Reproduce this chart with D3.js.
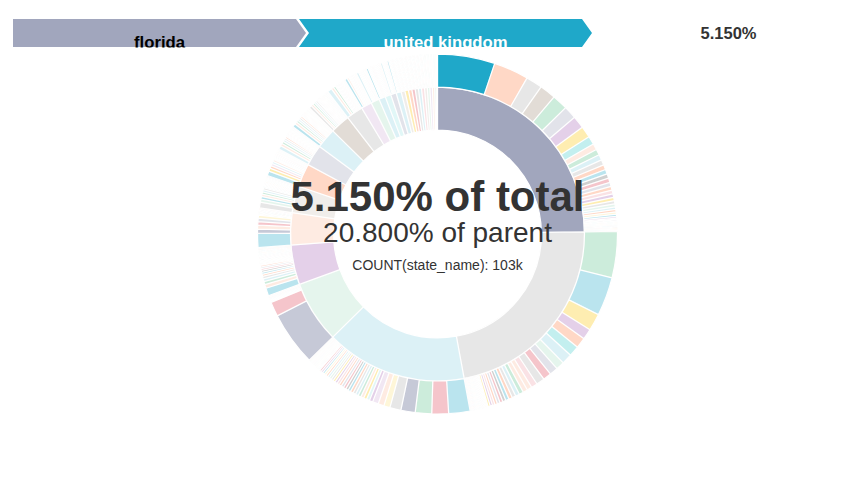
<!DOCTYPE html>
<html><head><meta charset="utf-8">
<script src="https://cdn.jsdelivr.net/npm/d3@7"></script>
<style>
html,body{margin:0;padding:0;background:#fff;}
svg{display:block;font-family:"Liberation Sans",Arial,Helvetica,sans-serif;}
</style></head><body>
<svg id="chart" width="862" height="488"></svg>
<script>
// ---------------- DATA (counts in thousands) ----------------
const metricLabel = "COUNT(state_name)";
const hoverPath = ["florida", "united kingdom"];

const states = ["florida","california","texas","new york","illinois","ohio","pennsylvania","georgia","michigan",
  "north carolina","new jersey","virginia","washington","arizona","tennessee","massachusetts","indiana","missouri",
  "maryland","wisconsin","colorado","minnesota","south carolina","alabama","louisiana","kentucky","oregon","oklahoma",
  "connecticut","utah","iowa"];

const otherCountries = ["portugal","poland","greece","finland","new zealand","south africa","argentina","chile","colombia","peru",
  "israel","turkey","russia","south korea","singapore","thailand","vietnam","philippines","indonesia","malaysia",
  "egypt","nigeria","kenya","morocco","czech republic","hungary","romania","ukraine","croatia","serbia",
  "bulgaria","slovakia","slovenia","lithuania","latvia","estonia","iceland","luxembourg","malta","cyprus",
  "venezuela","ecuador","uruguay","paraguay","bolivia","costa rica","panama","cuba","jamaica","dominican republic",
  "puerto rico","guatemala","honduras","el salvador","nicaragua","pakistan","bangladesh","sri lanka","nepal","qatar",
  "united arab emirates","saudi arabia","kuwait","jordan","lebanon","iran","iraq","ghana","ethiopia","tanzania"];

const floridaTop = ["united kingdom","france","switzerland","mexico","canada","china","australia","japan","brazil"];
const floridaCounts = [103,62.8,29.4,29.2,27.8,23.3,22.2,20.6,15.0,
  11.1,10.6,10.0,9.4,8.9,8.3,8.1,7.8,7.2,6.9,6.7,6.4,6.1,5.6,5.3,4.6,4.5,4.0,3.8,3.5,
  1.5,1.4,1.2,1.0,1.0,1.0,0.9,0.9,0.9,0.8,0.8,0.8,0.8,0.7,0.7,0.7,0.7,0.6,0.6,0.6,0.6,0.5,0.5,0.5,0.5,0.4,0.4,0.4,0.3,0.3,0.3,0.2,0.2,0.2,0.1,0.1];

const californiaTop = ["canada","united kingdom","japan","australia","france","brazil","india","netherlands","china","spain","switzerland","ireland","sweden"];
const californiaCounts = [83.3,69.4,30.6,19.0,18.9,18.8,18.7,15.0,15.0,14.9,14.8,
  11.1,8.9,8.3,7.8,7.2,6.7,6.4,6.1,5.6,5.3,5.0,4.7,4.4,4.2,3.9,2.1,
  1.5,1.4,1.3,1.2,1.2,1.1,1.1,1.1,1.0,1.0,0.9,0.9,0.9,0.9,0.9,0.8,0.8,0.8,0.8,0.8,0.7,0.7,0.7,0.7,0.7,
  0.6,0.6,0.6,0.6,0.5,0.5,0.5,0.5,0.4,0.4,0.4,0.3,0.3,0.2,0.2,0.1];

const texasTop = ["united kingdom","spain","canada","germany","switzerland","norway","sweden","denmark","australia","belgium","japan"];
const texasCounts = [38.3,30.0,29.4,25.6,20.0,11.1,10.6,10.5,6.1,5.6,5.5,
  5.4,5.3,5.2,5.1,5.0,4.9,4.8,4.7,4.6,4.5,4.4,4.3,4.2,4.1,4.0,3.9,3.8,3.7,3.6,3.5,3.4,
  1.6,1.5,1.4,1.3,1.2,1.0,1.0,1.0,0.9,0.9,0.9,0.8,0.8,0.8,0.8,0.7,0.7,0.7,0.7,0.6,0.6,0.6,0.6,0.6,0.5,0.5,0.5,0.4,0.4,0.4,0.3,0.3,0.2,0.2,0.1];

const newYorkTop = ["germany","spain"];
const newYorkCounts = [97.2,26.1,2.2,1.2,1.1,1.0,1.0,0.9,0.9,0.8,0.8,0.7,0.7,0.6,0.5,0.4];

const illinoisTop = ["united kingdom"];
const illinoisCounts = [13.9,6.7,5.6,5.0,4.4,3.9,3.6,3.4,3.2,3.0,2.9,2.0,1.0,
  1.6,1.5,1.4,1.3,1.3,1.2,1.2,1.1,1.1,1.0,1.0,1.0,0.9,0.9,0.9,0.8,0.8,0.8,0.8,0.7,0.7,0.7,0.6,0.6,0.6,0.5,0.5,0.5,0.5,0.4,0.4,0.4,0.3,0.3,0.2,0.1];

const ohioTop = ["united kingdom","germany","sweden","spain","china","norway"];
const ohioCounts = [25.6,7.3,7.2,6.1,6.0,5.5,1.4,1.3,1.3,1.2,1.1,1.1,1.0,1.0,0.9,0.8,0.7,0.7,0.5];

const pennsylvaniaTop = ["switzerland","netherlands","united kingdom"];
const pennsylvaniaCounts = [10.0,5.6,4.8,4.4,4.0,3.8,3.6,
  1.6,1.5,1.5,1.4,1.4,1.3,1.3,1.2,1.2,1.1,1.1,1.0,1.0,0.9,0.9,0.8,0.8,0.7,0.6,0.5,0.5,0.4];

const georgiaTop = ["united kingdom","japan","france","denmark","india"];
const georgiaCounts = [8.3,5.6,4.6,4.4,4.0,3.6,
  1.6,1.5,1.5,1.4,1.4,1.3,1.3,1.2,1.2,1.1,1.1,1.0,1.0,0.9,0.8,0.7,0.6,0.5,0.3,0.2];

const michiganTop = ["india"];
const michiganCounts = [6.7,4.6,4.2,3.8,3.4,3.1,
  1.6,1.5,1.5,1.4,1.4,1.3,1.3,1.2,1.2,1.1,1.1,1.0,1.0,1.0,0.9,0.8,0.7,0.6,0.3];

const northCarolinaTop = ["united kingdom"];
const northCarolinaCounts = [6.1,4.4,3.8,3.5,3.5,3.2,
  1.6,1.5,1.5,1.4,1.4,1.3,1.3,1.2,1.2,1.1,1.1,1.0,1.0,1.0,0.9,0.8,0.6];

const newJerseyTop = ["switzerland"];
const newJerseyCounts = [5.0,3.9,3.5,3.3,3.1,
  1.6,1.6,1.5,1.5,1.4,1.4,1.3,1.3,1.2,1.2,1.1,1.1,1.0,1.0,1.0,0.9,0.9,0.8,0.8,0.7,0.6,0.3,0.3];

const virginiaTop = ["india"];
const virginiaCounts = [8.3,4.4,3.9,1.6,1.5,1.5,1.4,1.4,1.3,1.3,1.2,1.2,1.1,1.1,1.0,1.0,0.9,0.8,0.8,0.6,0.4];
const washingtonTop = ["united kingdom"];
const washingtonCounts = [5.0,3.4,1.5,1.4,1.4,1.3,1.3,1.2,1.2,1.1,1.0,1.0,0.9,0.8,0.5,0.3];
const arizonaTop = ["india"];
const arizonaCounts = [4.4,1.5,1.4,1.4,1.3,1.3,1.2,1.2,1.1,1.0,1.0,0.9,0.7,0.5];
const tennesseeTop = ["united kingdom"];
const tennesseeCounts = [3.9,1.5,1.4,1.3,1.2,1.1,1.0,0.9,0.8,0.7,0.4,0.2];
const massachusettsCounts = [1.6,1.5,1.4,1.3,1.2,1.1,1.0,0.9,0.8,0.7,0.6,0.4,0.3];
const indianaTop = ["india"];
const indianaCounts = [3.6,1.4,1.3,1.2,1.1,1.0,0.9,0.7,0.5,0.3,0.2];
const missouriTop = ["united kingdom"];
const missouriCounts = [3.3,1.4,1.3,1.2,1.0,0.9,0.8,0.6,0.4,0.2];
const marylandCounts = [1.6,1.4,1.2,1.1,1.0,0.8,0.7,0.5];
const wisconsinCounts = [1.5,1.3,1.2,1.0,0.9,0.8,0.6,0.5];
const coloradoCounts = [1.5,1.3,1.1,1.0,0.9,0.8,0.6,0.5];
const minnesotaCounts = [1.5,1.3,1.1,1.0,0.9,0.7,0.5,0.2];
const southCarolinaCounts = [1.4,1.3,1.1,1.0,0.9,0.7,0.5,0.2];
const alabamaCounts = [1.4,1.2,1.1,0.9,0.8,0.7,0.4,0.2];
const louisianaCounts = [1.4,1.2,1.0,0.9,0.8,0.7,0.4,0.2];
const kentuckyCounts = [1.3,1.2,1.0,0.9,0.7,0.6,0.4];
const oregonCounts = [1.3,1.1,1.0,0.8,0.7,0.5,0.2];
const oklahomaCounts = [1.2,1.1,1.0,0.8,0.7,0.5,0.2];
const connecticutCounts = [1.2,1.0,0.9,0.8,0.6,0.5];
const utahCounts = [1.0,0.9,0.8,0.6];
const iowaCounts = [1.0,0.8,0.6,0.4];

const stateTopNames = [floridaTop,californiaTop,texasTop,newYorkTop,illinoisTop,ohioTop,pennsylvaniaTop,georgiaTop,michiganTop,
  northCarolinaTop,newJerseyTop,virginiaTop,washingtonTop,arizonaTop,tennesseeTop,[],indianaTop,missouriTop,
  [],[],[],[],[],[],[],[],[],[],[],[],[]];
const stateCounts = [floridaCounts,californiaCounts,texasCounts,newYorkCounts,illinoisCounts,ohioCounts,pennsylvaniaCounts,georgiaCounts,michiganCounts,
  northCarolinaCounts,newJerseyCounts,virginiaCounts,washingtonCounts,arizonaCounts,tennesseeCounts,massachusettsCounts,indianaCounts,missouriCounts,
  marylandCounts,wisconsinCounts,coloradoCounts,minnesotaCounts,southCarolinaCounts,alabamaCounts,louisianaCounts,kentuckyCounts,oregonCounts,oklahomaCounts,
  connecticutCounts,utahCounts,iowaCounts];

// ---------------- COLOURS ----------------
const palette = ['#1FA8C9','#454E7C','#5AC189','#FF7F44','#666666','#E04355','#FCC700','#A868B7','#3CCCCB','#A38F79',
  '#8FD3E4','#A1A6BD','#ACE1C4','#FEC0A1','#B2B2B2','#EFA1AA','#FDE380','#D3B3DA','#9EE5E5','#D1C6BC'];
const countryColorNames = ["united kingdom","germany","canada","france","italy","spain","japan","australia","brazil","mexico",
  "india","china","netherlands","sweden","switzerland","ireland","norway","denmark","belgium","austria"];
const otherColorIdx = [13,2,10,14,3,0,4,5,11,3,15,7,6,14,12,10,3,16,0,7,5,9,18,1,8,15,2,6,10,13];
const stateColorIdx = [11,14,10,12,7,13,19,3,11,10,9,14,17,12,10,18,11,10,19,6,3,5,14,10,15,19,12,17,13,2,8];

const colorOf = new Map();
countryColorNames.forEach((n,i)=>colorOf.set(n, palette[i]));
otherCountries.forEach((n,i)=>colorOf.set(n, palette[otherColorIdx[i % otherColorIdx.length]]));
const stateColor = new Map(states.map((s,i)=>[s, palette[stateColorIdx[i]]]));
function color(d){ return d.depth===1 ? stateColor.get(d.data.name) : colorOf.get(d.data.name); }

// ---------------- BUILD ----------------
const treeData = {name:"root", children: states.map((s,i)=>{
  const tops = stateTopNames[i];
  return {name:s, children: stateCounts[i].map((v,j)=>({
    name: j<tops.length ? tops[j] : otherCountries[j-tops.length],
    value: Math.round(v*1000)}))};
})};

const radius = 180, cx = 437.5, cy = 234;
const root = d3.hierarchy(treeData).sum(d=>d.children?0:d.value).sort((a,b)=>b.value-a.value);
d3.partition().size([2*Math.PI, radius*radius])(root);

const arc = d3.arc()
  .startAngle(d=>d.x0).endAngle(d=>d.x1)
  .innerRadius(d=>Math.sqrt(d.y0)).outerRadius(d=>Math.sqrt(d.y1));

const svg = d3.select('#chart');
const nodes = [];
root.eachBefore(n=>{ if(n.depth) nodes.push(n); });

const hoverState = root.children.find(n=>n.data.name===hoverPath[0]);
const hoverNode = hoverState.children.find(n=>n.data.name===hoverPath[1]);
const seq = hoverNode.ancestors().reverse().slice(1);

const g = svg.append('g').attr('transform',`translate(${cx},${cy})`);
g.selectAll('path').data(nodes).join('path')
  .attr('d', arc)
  .attr('fill', color)
  .attr('fill-rule','evenodd')
  .attr('stroke', '#fff')
  .attr('stroke-width', 1.25)
  .attr('opacity', d => seq.includes(d) ? 1 : 0.3);

// center text
const fmtPct = d3.format('.3%');
const mid = svg.append('g').attr('transform',`translate(${cx},${cy})`)
  .attr('text-anchor','middle').attr('fill','#333');
mid.append('text').attr('y',-23).attr('font-size',42).attr('font-weight',700)
  .text(fmtPct(hoverNode.value/root.value)+' of total');
mid.append('text').attr('y',8).attr('font-size',28)
  .text(fmtPct(hoverNode.value/hoverNode.parent.value)+' of parent');
mid.append('text').attr('y',36).attr('font-size',14)
  .text(metricLabel+': '+d3.format('.3s')(hoverNode.value));

// breadcrumbs
const bw = 283, bh = 28, bt = 10, bs = 3, bx = 13, by = 19;
svg.append('clipPath').attr('id','bc').append('rect').attr('x',0).attr('y',0).attr('width',862).attr('height',47.5);
const bc = svg.append('g').attr('clip-path','url(#bc)');
const crumbs = bc.selectAll('g.crumb').data(seq).join('g')
  .attr('transform',(d,i)=>`translate(${bx+i*(bw+bs)},${by})`);
crumbs.append('polygon')
  .attr('points',(d,i)=>{
    const p=[[0,0],[bw,0],[bw+bt,bh/2],[bw,bh],[0,bh]];
    if(i>0) p.push([bt,bh/2]);
    return p.map(q=>q.join(',')).join(' ');
  })
  .attr('fill', color);
crumbs.append('text')
  .attr('x',(bw+bt)/2).attr('y',bh+0.5)
  .attr('text-anchor','middle').attr('font-size',16.7).attr('font-weight',700)
  .attr('fill', d => d3.hsl(color(d)).l > 0.5 ? '#000' : '#fff')
  .text(d=>d.data.name);
svg.append('text')
  .attr('x', bx + seq.length*(bw+bs) + (bw+bt)/2 - 3).attr('y', 39)
  .attr('text-anchor','middle').attr('font-size',16.5).attr('font-weight',700).attr('fill','#333')
  .text(fmtPct(hoverNode.value/root.value));
</script>
</body></html>
